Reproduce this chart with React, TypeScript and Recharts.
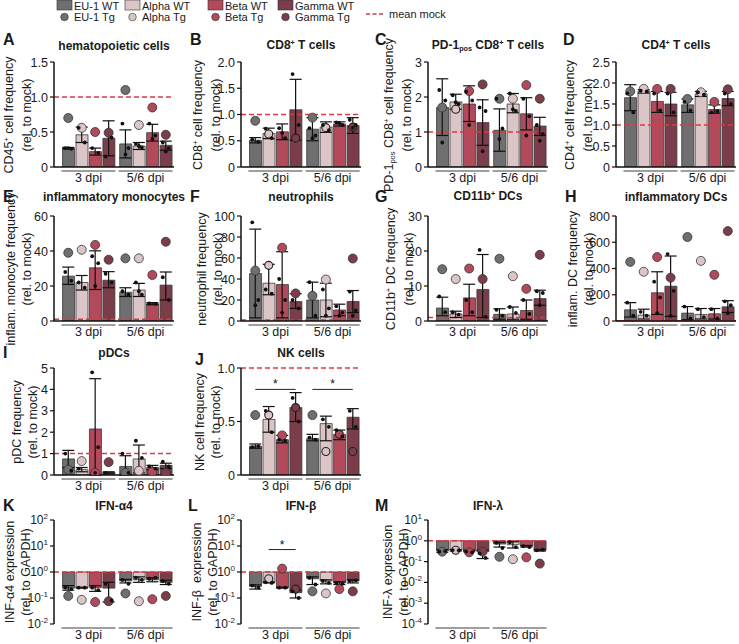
import React from "react";
import {
  Bar,
  Cell,
  ComposedChart,
  ErrorBar,
  ReferenceLine,
  Scatter,
  XAxis,
  YAxis,
} from "recharts";

const groups = ["3 dpi", "5/6 dpi"];
const variants = ["EU-1", "Alpha", "Beta", "Gamma"];
const barColors = ["#6f6f6f", "#dcc5c7", "#b24a5b", "#7b3d4a"];
const mockRed = "#d93a45";
// slot of each bar on the x axis (4 variants x 2 time points)
const slots = [0, 1, 2, 3, 4.25, 5.25, 6.25, 7.25];

// A: hematopoietic cells
const aMean = [0.27, 0.46, 0.22, 0.41, 0.33, 0.3, 0.49, 0.31];
const aHi = [0.28, 0.57, 0.27, 0.66, 0.53, 0.35, 0.61, 0.37];
const aLo = [0.26, 0.35, 0.17, 0.16, 0.13, 0.25, 0.37, 0.24];
const aTg = [0.7, 0.56, 0.5, 0.49, 1.1, 0.6, 0.85, 0.46];
const aDots = [[0.27, 0.26, 0.27], [0.56, 0.35], [0.27, 0.2], [0.15, 0.42], [0.62, 0.27, 0.18], [0.33, 0.28, 0.3], [0.62, 0.45, 0.4], [0.35, 0.27, 0.22]];

// B: CD8+ T cells
const bMean = [0.51, 0.64, 0.67, 1.09, 0.72, 0.76, 0.82, 0.79];
const bHi = [0.56, 0.74, 0.82, 1.67, 0.94, 0.86, 0.86, 0.94];
const bLo = [0.46, 0.54, 0.52, 0.51, 0.5, 0.66, 0.78, 0.64];
const bTg = [0.88, null, null, null, 0.94, null, null, null];
const bOpen = [null, 0.63, null, 0.55, null, 0.75, null, 0.76];
const bDots = [[0.52, 0.48], [0.73, 0.55], [0.74, 0.55, 0.65], [1.77, 0.8], [0.74, 0.6, 0.55], [0.8, 0.7], [0.85, 0.8, 0.84], [0.9, 0.8, 0.75]];

// C: PD-1pos CD8+ T cells
const cMean = [1.7, 1.86, 1.8, 1.27, 1.05, 1.8, 1.52, 1.17];
const cHi = [2.52, 2.08, 2.32, 1.92, 1.66, 2.1, 1.98, 1.42];
const cLo = [0.9, 1.65, 1.3, 0.62, 0.45, 1.55, 1.06, 0.9];
const cTg = [1.7, null, 2.17, 2.36, 1.95, 1.95, 2.34, 1.95];
const cOpen = [null, 1.65, null, null, null, null, null, null];
const cDots = [[2.2, 1.9, 0.7], [2.05, 1.8, 1.85], [2.15, 1.9, 1.2], [1.7, 1.6, 0.45], [1.95, 1.1, 0.8], [2.1, 1.6, 1.65], [1.95, 1.45, 0.9], [1.2, 0.95, 0.75]];

// D: CD4+ T cells
const dMean = [1.65, 1.8, 1.56, 1.5, 1.48, 1.74, 1.37, 1.63];
const dHi = [1.96, 1.84, 1.8, 1.78, 1.62, 1.8, 1.48, 1.8];
const dLo = [1.34, 1.76, 1.3, 1.22, 1.3, 1.68, 1.28, 1.46];
const dTg = [1.8, 1.86, 1.86, 1.86, 1.62, 1.78, 1.55, 1.85];
const dDots = [[1.75, 1.3], [1.82, 1.8], [1.75, 1.35], [1.75, 1.3], [1.55, 1.35], [1.78, 1.72], [1.3, 1.33], [1.75, 1.5]];

// E: inflammatory monocytes
const eMean = [25.6, 22, 30.4, 23.3, 16.4, 17.7, 9.9, 20.5];
const eHi = [30.8, 26, 40.1, 28.2, 19, 21.5, 10.5, 28];
const eLo = [20.9, 17.7, 18, 19, 14, 14, 9.3, 12];
const eTg = [39, 40.7, 43.5, 35, 35.8, 35.8, 26.3, 45.3];
const eDots = [[28, 23], [22, 19], [37, 33, 20], [27, 22], [17, 15], [22, 15, 17], [10, 9.8], [25, 12]];

// F: neutrophils
const fMean = [45.2, 36, 34.7, 18.5, 20, 20, 10.5, 18.6];
const fHi = [87.5, 54, 66, 26, 37, 36, 16, 29];
const fLo = [3, 25, 3, 12, 3, 4, 5, 8];
const fTg = [48, null, 69.8, 26.3, 24, 39.5, null, 59.5];
const fOpen = [null, 53, null, null, null, null, null, null];
const fDots = [[94, 20, 15], [30, 26], [40, 20, 8], [20, 12], [37, 5], [30, 12, 5], [14, 8, 5], [28, 10, 5]];

// G: CD11b+ DCs
const gMean = [3.7, 2, 6.6, 9, 1.9, 2, 3, 6.4];
const gHi = [6.8, 2.8, 10.5, 19, 3.5, 4, 6, 8.8];
const gLo = [1.5, 1, 1.5, 1, 0.5, 0.5, 0.5, 4.5];
const gTg = [14.8, 12, 15, 12, 17.8, 12.8, 9.2, 18.9];
const gDots = [[7, 2.5], [2.5, 1.8], [6, 2.5], [20.3, 1.2], [3.2, 1.5], [4, 2.3], [6, 2], [8.5, 8, 4.5]];

// H: inflammatory DCs
const hMean = [85, 45, 215, 265, 60, 50, 55, 108];
const hHi = [140, 90, 375, 495, 110, 95, 95, 155];
const hLo = [30, 15, 50, 35, 10, 15, 15, 65];
const hTg = [450, 375, 487, 330, 640, 458, 352, 685];
const hDots = [[140, 40], [70, 40], [300, 180, 60], [510, 230, 40], [110, 20], [90, 30], [90, 20], [150, 120, 60]];

// I: pDCs
const iMean = [0.75, 0.25, 2.15, 0.12, 0.4, 0.75, 0.35, 0.45];
const iHi = [1.15, 0.35, 4.5, 0.15, 0.9, 1.4, 0.45, 0.55];
const iLo = [0.35, 0.15, 0, 0.09, 0, 0.1, 0.25, 0.3];
const iTg = [0.25, 0.65, 0.1, 0.6, 0.1, 0.2, 0.15, 0.1];
const iDots = [[1.0, 0.2], [0.3], [4.8, 1.3, 0.1], [0.1], [1.0, 0.1], [1.6, 0.8], [0.4, 0.3], [0.62, 0.4]];

// J: NK cells
const jMean = [0.27, 0.52, 0.33, 0.63, 0.34, 0.48, 0.38, 0.54];
const jHi = [0.29, 0.64, 0.37, 0.77, 0.38, 0.55, 0.42, 0.62];
const jLo = [0.25, 0.4, 0.3, 0.5, 0.32, 0.32, 0.33, 0.43];
const jTg = [0.56, null, 0.37, null, 0.56, null, null, null];
const jOpen = [null, 0.56, null, 0.63, null, 0.22, 0.38, 0.22];
const jDots = [[0.26, 0.27], [0.6, 0.4], [0.33, 0.32], [0.72, 0.5], [0.35, 0.33], [0.52, 0.45], [0.42, 0.36], [0.6, 0.45]];

// K: IFN-a4
const kMean = [0.24, 0.25, 0.25, 0.24, 0.45, 0.5, 0.5, 0.4];
const kHi = [0.3, 0.26, 0.3, 0.4, 0.52, 0.65, 0.6, 0.48];
const kLo = [0.2, 0.24, 0.18, 0.07, 0.38, 0.4, 0.42, 0.33];
const kTg = [0.12, 0.085, 0.07, 0.075, 0.15, 0.075, 0.09, 0.12];
const kDots = [[0.25, 0.22], [0.25, 0.25], [0.25, 0.2], [0.35, 0.08], [0.5, 0.35], [0.6, 0.5], [0.55, 0.6], [0.45, 0.35]];

// L: IFN-b
const lMean = [0.28, 0.4, 0.25, 0.16, 0.55, 0.45, 0.38, 0.45];
const lHi = [0.32, 0.42, 0.26, 0.2, 0.65, 0.5, 0.42, 0.5];
const lLo = [0.22, 0.38, 0.24, 0.1, 0.33, 0.35, 0.33, 0.38];
const lTg = [null, null, 1.35, null, 0.18, 0.15, 0.22, 0.18];
const lOpen = [null, 0.55, null, 0.22, null, null, null, null];
const lDots = [[0.3, 0.25], [0.4, 0.38], [0.25, 0.25], [0.18, 0.1], [0.6, 0.33], [0.45, 0.38], [0.38, 0.35], [0.45, 0.48]];

// M: IFN-l
const mMean = [0.33, 0.35, 0.33, 0.3, 0.7, 0.65, 0.55, 0.35];
const mHi = [0.38, 0.38, 0.36, 0.35, 0.85, 0.9, 0.6, 0.38];
const mLo = [0.28, 0.32, 0.3, 0.14, 0.5, 0.45, 0.5, 0.32];
const mTg = [0.3, null, 0.28, 0.3, 0.17, 0.13, 0.16, 0.08];
const mOpen = [null, 0.35, null, null, null, null, null, null];
const mDots = [[0.3, 0.32], [0.36, 0.35], [0.3, 0.28], [0.25, 0.15], [0.8, 0.45], [0.85, 0.5], [0.55, 0.5], [0.35, 0.38]];

type Val = number | null;
type Sig = { from: number; to: number; y: number };

type PanelDef = {
  letter: string;
  title: React.ReactNode;
  yLabel: React.ReactNode;
  mean: number[];
  hi: number[];
  lo: number[];
  tg: Val[];
  open?: Val[];
  dots: number[][];
  domain: [number, number];
  ticks: number[];
  dec?: number;
  log?: boolean;
  solidMock?: boolean;
  sig?: Sig[];
  col: number;
  row: number;
  labelX: number;
  letterX: number;
  letterY?: number;
};

const FONT = '"Liberation Sans", Arial, sans-serif';
const colAx = [54, 241, 428, 616];
const rowBox = [
  { top: 62, bottom: 167, title: 46, letter: 40 },
  { top: 216, bottom: 321, title: 197, letter: 197 },
  { top: 368, bottom: 475, title: 353, letter: 353 },
  { top: 520, bottom: 624, title: 506, letter: 506 },
];
const PLOT_W = 120;
const Y_W = 32;
const xDomain: [number, number] = [-1.06, 7.86];

const Sup = ({ c }: { c: string }) => (
  <span style={{ fontSize: "0.6em", position: "relative", top: "-0.55em" }}>{c}</span>
);
const Sub = ({ c }: { c: string }) => (
  <span style={{ fontSize: "0.6em", position: "relative", top: "0.3em" }}>{c}</span>
);

const rel = "(rel. to mock)";
const relG = "(rel. to GAPDH)";

const panels: PanelDef[] = [
  { letter: "A", title: "hematopoietic cells", yLabel: <>CD45<Sup c="+" /> cell frequency<br />{rel}</>, mean: aMean, hi: aHi, lo: aLo, tg: aTg, dots: aDots, domain: [0, 1.5], ticks: [0, 0.5, 1, 1.5], dec: 1, col: 0, row: 0, labelX: 18, letterX: 3 },
  { letter: "B", title: <>CD8<Sup c="+" /> T cells</>, yLabel: <>CD8<Sup c="+" /> cell frequency<br />{rel}</>, mean: bMean, hi: bHi, lo: bLo, tg: bTg, open: bOpen, dots: bDots, domain: [0, 2], ticks: [0, 0.5, 1, 1.5, 2], dec: 1, col: 1, row: 0, labelX: 207, letterX: 190 },
  { letter: "C", title: <>PD-1<Sub c="pos" /> CD8<Sup c="+" /> T cells</>, yLabel: <>PD-1<Sub c="pos" /> CD8<Sup c="+" /> cell frequency<br />{rel}</>, mean: cMean, hi: cHi, lo: cLo, tg: cTg, open: cOpen, dots: cDots, domain: [0, 3], ticks: [0, 1, 2, 3], col: 2, row: 0, labelX: 398, letterX: 375 },
  { letter: "D", title: <>CD4<Sup c="+" /> T cells</>, yLabel: <>CD4<Sup c="+" /> cell frequency<br />{rel}</>, mean: dMean, hi: dHi, lo: dLo, tg: dTg, dots: dDots, domain: [0, 2.5], ticks: [0, 0.5, 1, 1.5, 2, 2.5], dec: 1, col: 3, row: 0, labelX: 579, letterX: 563 },
  { letter: "E", title: "inflammatory monocytes", yLabel: <>inflam. monocyte frequency<br />{rel}</>, mean: eMean, hi: eHi, lo: eLo, tg: eTg, dots: eDots, domain: [0, 60], ticks: [0, 20, 40, 60], col: 0, row: 1, labelX: 19, letterX: 3 },
  { letter: "F", title: "neutrophils", yLabel: <>neutrophil frequency<br />{rel}</>, mean: fMean, hi: fHi, lo: fLo, tg: fTg, open: fOpen, dots: fDots, domain: [0, 100], ticks: [0, 20, 40, 60, 80, 100], col: 1, row: 1, labelX: 210, letterX: 190 },
  { letter: "G", title: <>CD11b<Sup c="+" /> DCs</>, yLabel: <>CD11b<Sup c="+" /> DC frequency<br />{rel}</>, mean: gMean, hi: gHi, lo: gLo, tg: gTg, dots: gDots, domain: [0, 30], ticks: [0, 10, 20, 30], col: 2, row: 1, labelX: 400, letterX: 375 },
  { letter: "H", title: "inflammatory DCs", yLabel: <>inflam. DC frequency<br />{rel}</>, mean: hMean, hi: hHi, lo: hLo, tg: hTg, dots: hDots, domain: [0, 800], ticks: [0, 200, 400, 600, 800], solidMock: true, col: 3, row: 1, labelX: 581, letterX: 565 },
  { letter: "I", title: "pDCs", yLabel: <>pDC frequency<br />{rel}</>, mean: iMean, hi: iHi, lo: iLo, tg: iTg, dots: iDots, domain: [0, 5], ticks: [0, 1, 2, 3, 4, 5], col: 0, row: 2, labelX: 25, letterX: 3 },
  { letter: "J", title: "NK cells", yLabel: <>NK cell frequency<br />{rel}</>, mean: jMean, hi: jHi, lo: jLo, tg: jTg, open: jOpen, dots: jDots, domain: [0, 1], ticks: [0, 0.5, 1], dec: 1, sig: [{ from: 0, to: 3, y: 0.8 }, { from: 4, to: 7, y: 0.8 }], col: 1, row: 2, labelX: 208, letterX: 195, letterY: 360 },
  { letter: "K", title: "IFN-α4", yLabel: <>INF-α4 expression<br />{relG}</>, mean: kMean, hi: kHi, lo: kLo, tg: kTg, dots: kDots, domain: [0.01, 100], ticks: [0.01, 0.1, 1, 10, 100], log: true, col: 0, row: 3, labelX: 18, letterX: 3 },
  { letter: "L", title: "IFN-β", yLabel: <>INF-β&nbsp; expression<br />{relG}</>, mean: lMean, hi: lHi, lo: lLo, tg: lTg, open: lOpen, dots: lDots, domain: [0.01, 100], ticks: [0.01, 0.1, 1, 10, 100], log: true, sig: [{ from: 1, to: 3, y: 7.3 }], col: 1, row: 3, labelX: 205, letterX: 188 },
  { letter: "M", title: "IFN-λ", yLabel: <>INF-λ expression<br />{relG}</>, mean: mMean, hi: mHi, lo: mLo, tg: mTg, open: mOpen, dots: mDots, domain: [0.0001, 10], ticks: [0.0001, 0.001, 0.01, 0.1, 1, 10], log: true, col: 2, row: 3, labelX: 396, letterX: 375 },
];

const dotShift = [-3, 3, 0];

function YTick(props: any) {
  const { x, y, payload, log, dec } = props;
  const v = payload.value as number;
  if (log) {
    const e = Math.round(Math.log10(v));
    return (
      <text x={x} y={y + 4} textAnchor="end" fontSize={12} fill="#1a1a1a">
        10
        <tspan dy={-5} fontSize={8}>
          {e}
        </tspan>
      </text>
    );
  }
  return (
    <text x={x} y={y + 4.5} textAnchor="end" fontSize={12.5} fill="#1a1a1a">
      {v === 0 ? "0" : v.toFixed(dec ?? 0)}
    </text>
  );
}

function GroupTick(props: any) {
  const { x, y, payload, log } = props;
  const label = payload.value < 3 ? groups[0] : groups[1];
  const dy = log ? 4 : 4;
  return (
    <g>
      <line x1={x - 27} x2={x + 27} y1={y + dy} y2={y + dy} stroke="#7f7f7f" strokeWidth={1.5} />
      <text x={x} y={y + dy + 11} textAnchor="middle" fontSize={12.5} fill="#1a1a1a">
        {label}
      </text>
    </g>
  );
}

function Panel({ p }: { p: PanelDef }) {
  const box = rowBox[p.row];
  const ax = colAx[p.col];
  const plotH = box.bottom - box.top;
  const rows = p.mean.map((m, i) => ({
    x: slots[i],
    mean: m,
    range: [m, 1],
    err: [m - p.lo[i], p.hi[i] - m],
  }));
  const dotRows = p.dots.flatMap((d, i) => d.map((v, j) => ({ x: slots[i], y: v, j })));
  const tgRows = p.tg.flatMap((v, i) => (v == null ? [] : [{ x: slots[i], y: v, i }]));
  const openRows = (p.open ?? []).flatMap((v, i) => (v == null ? [] : [{ x: slots[i], y: v, i }]));
  const chartH = 8 + plotH + 24;

  return (
    <>
      <div
        style={{
          position: "absolute",
          left: p.letterX,
          top: (p.letterY ?? box.letter) - 9,
          fontSize: 16,
          fontWeight: 700,
          lineHeight: "18px",
        }}
      >
        {p.letter}
      </div>
      <div
        style={{
          position: "absolute",
          left: ax + PLOT_W / 2,
          top: box.title,
          transform: "translate(-50%, -50%)",
          fontSize: 12,
          fontWeight: 700,
          whiteSpace: "nowrap",
          lineHeight: "14px",
        }}
      >
        {p.title}
      </div>
      <div
        style={{
          position: "absolute",
          left: p.labelX,
          top: (box.top + box.bottom) / 2,
          transform: "translate(-50%, -50%) rotate(-90deg)",
          fontSize: 12.5,
          whiteSpace: "nowrap",
          lineHeight: "16px",
          textAlign: "center",
        }}
      >
        {p.yLabel}
      </div>
      <div style={{ position: "absolute", left: ax - Y_W, top: box.top - 8 }}>
        <ComposedChart
          width={Y_W + PLOT_W + 4}
          height={chartH}
          data={rows}
          margin={{ top: 8, right: 4, bottom: 0, left: 0 }}
        >
          <XAxis
            type="number"
            dataKey="x"
            domain={xDomain}
            allowDataOverflow
            ticks={[1.5, 5.75]}
            interval={0}
            height={24}
            tickSize={0}
            tickMargin={0}
            tickLine={false}
            axisLine={p.log ? false : { stroke: "#111", strokeWidth: 1.5 }}
            tick={(tp: any) => <GroupTick {...tp} log={p.log} />}
          />
          <YAxis
            type="number"
            width={Y_W}
            scale={p.log ? "log" : "auto"}
            domain={p.domain}
            ticks={p.ticks}
            interval={0}
            allowDataOverflow
            tickSize={4}
            tickMargin={2}
            axisLine={{ stroke: "#111", strokeWidth: 1.5 }}
            tickLine={{ stroke: "#111", strokeWidth: 1.2 }}
            tick={(tp: any) => <YTick {...tp} log={p.log} dec={p.dec} />}
          />
          <Bar dataKey={p.log ? "range" : "mean"} barSize={12} isAnimationActive={false}>
            {rows.map((_, i) => (
              <Cell key={i} fill={barColors[i % 4]} stroke="#3a3a3a" strokeWidth={0.8} />
            ))}
          </Bar>
          <ReferenceLine
            y={1}
            stroke={mockRed}
            strokeWidth={1.5}
            strokeDasharray={p.solidMock ? undefined : "5 3"}
          />
          <Scatter
            data={tgRows}
            dataKey="y"
            isAnimationActive={false}
            shape={(sp: any) => (
              <circle
                cx={sp.cx}
                cy={sp.cy}
                r={4.5}
                fill={barColors[sp.payload.i % 4]}
                stroke="#333"
                strokeWidth={0.8}
              />
            )}
          />
          <Scatter
            data={openRows}
            dataKey="y"
            isAnimationActive={false}
            shape={(sp: any) => (
              <circle
                cx={sp.cx}
                cy={sp.cy}
                r={4}
                fill={barColors[sp.payload.i % 4]}
                stroke="#222"
                strokeWidth={1.1}
              />
            )}
          />
          <Scatter dataKey="mean" isAnimationActive={false} shape={() => <g />}>
            <ErrorBar
              dataKey="err"
              direction="y"
              width={6}
              stroke="#111"
              strokeWidth={1.2}
              isAnimationActive={false}
            />
          </Scatter>
          <Scatter
            data={dotRows}
            dataKey="y"
            isAnimationActive={false}
            shape={(sp: any) => (
              <circle cx={sp.cx + dotShift[sp.payload.j % 3]} cy={sp.cy} r={1.9} fill="#111" />
            )}
          />
          {(p.sig ?? []).map((s, k) => (
            <ReferenceLine
              key={k}
              segment={[
                { x: slots[s.from], y: s.y },
                { x: slots[s.to], y: s.y },
              ]}
              stroke="#222"
              strokeWidth={1}
              label={{ value: "*", position: "top", fontSize: 12, fill: "#111", offset: 1 }}
            />
          ))}
        </ComposedChart>
      </div>
    </>
  );
}

const legendX = [57, 125, 208, 278];

function Legend() {
  return (
    <svg width={739} height={26} style={{ position: "absolute", left: 0, top: 0 }}>
      {variants.map((v, i) => (
        <g key={v}>
          <rect x={legendX[i]} y={0} width={15} height={10} fill={barColors[i]} stroke="#333" strokeWidth={0.6} />
          <text x={legendX[i] + 17} y={9.5} fontSize={11} fill="#1a1a1a">
            {v} WT
          </text>
          <circle cx={legendX[i] + 7.5} cy={17} r={3.8} fill={barColors[i]} stroke="#333" strokeWidth={0.6} />
          <text x={legendX[i] + 17} y={21} fontSize={11} fill="#1a1a1a">
            {v} Tg
          </text>
        </g>
      ))}
      <line x1={366} x2={385} y1={14} y2={14} stroke={mockRed} strokeWidth={1.5} strokeDasharray="4 2.5" />
      <text x={389} y={18} fontSize={11} fill="#1a1a1a">
        mean mock
      </text>
    </svg>
  );
}

export default function App() {
  return (
    <div
      style={{
        position: "absolute",
        left: 0,
        top: 0,
        width: 739,
        height: 644,
        overflow: "hidden",
        background: "#fff",
        fontFamily: FONT,
        color: "#1a1a1a",
      }}
    >
      <Legend />
      {panels.map((p) => (
        <Panel key={p.letter} p={p} />
      ))}
    </div>
  );
}
